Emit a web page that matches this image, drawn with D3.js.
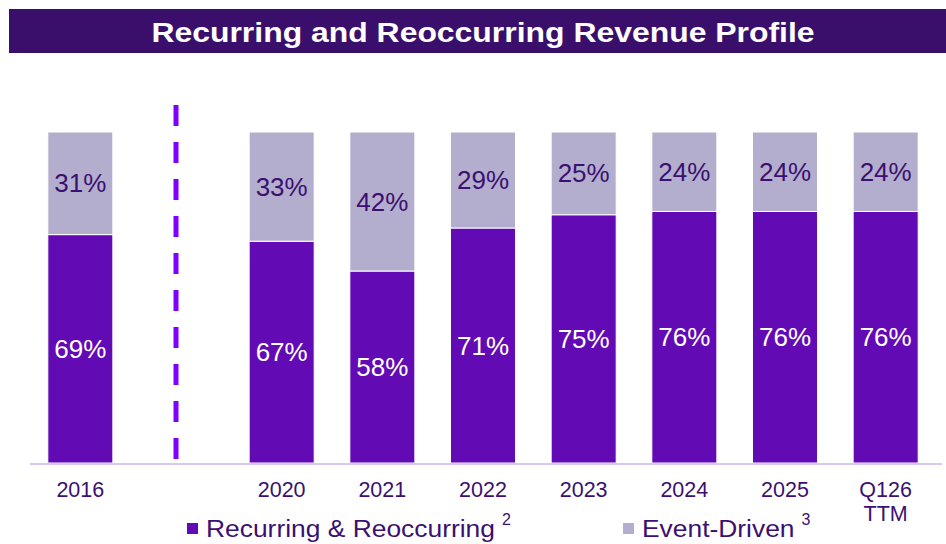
<!DOCTYPE html>
<html>
<head>
<meta charset="utf-8">
<script src="https://cdn.jsdelivr.net/npm/d3@7"></script>
<style>
  body { margin: 0; background: #fff; }
  svg { display: block; font-family: "Liberation Sans", Arial, sans-serif; }
</style>
</head>
<body>
<svg id="chart" width="946" height="544"></svg>
<script>
// Chart data
const categories = ["2016", "", "2020", "2021", "2022", "2023", "2024", "2025", "Q126 TTM"];
const recurring = [69, null, 67, 58, 71, 75, 76, 76, 76];
const eventDriven = [31, null, 33, 42, 29, 25, 24, 24, 24];
const legendLabels = ["Recurring & Reoccurring", "Event-Driven"];
const legendNotes = ["2", "3"];

const purple = "#620bb5",
      lavender = "#b4aece",
      darkText = "#3b1070";

const svg = d3.select("#chart"),
      width = 946,
      margin = {top: 132, bottom: 80, left: 30, right: 10};

// Title bar
svg.append("rect")
  .attr("x", 9).attr("y", 9)
  .attr("width", width - 9).attr("height", 44)
  .attr("fill", "#3a0f6c");

// the original title is a bit wide for its height, so stretch it
svg.append("text")
  .attr("transform", "translate(483,42) scale(1.14,1)")
  .attr("text-anchor", "middle")
  .attr("fill", "#fff")
  .style("font-size", "28px")
  .style("font-weight", "bold")
  .text("Recurring and Reoccurring Revenue Profile");

// Scales
const x = d3.scaleBand()
  .domain(categories)
  .range([margin.left, 936])
  .paddingInner(0.354)
  .paddingOuter(0.177);

const y = d3.scaleLinear()
  .domain([0, 100])
  .range([463, margin.top]);

const rows = categories.map((c, i) => ({cat: c, rec: recurring[i], evt: eventDriven[i]}))
  .filter(d => d.rec !== null);

const bars = svg.append("g");

// Recurring segment (bottom)
bars.selectAll(".rec")
  .data(rows)
  .join("rect")
  .attr("x", d => x(d.cat))
  .attr("y", d => y(d.rec))
  .attr("width", x.bandwidth())
  .attr("height", d => y(0) - y(d.rec))
  .attr("fill", purple)
  .attr("stroke", "#fff")
  .attr("stroke-width", 1);

// Event-driven segment (top)
bars.selectAll(".evt")
  .data(rows)
  .join("rect")
  .attr("x", d => x(d.cat))
  .attr("y", d => y(d.rec + d.evt))
  .attr("width", x.bandwidth())
  .attr("height", d => y(d.rec) - y(d.rec + d.evt))
  .attr("fill", lavender)
  .attr("stroke", "#fff")
  .attr("stroke-width", 1);

// Segment labels
bars.selectAll(".recLabel")
  .data(rows)
  .join("text")
  .attr("x", d => x(d.cat) + x.bandwidth() / 2)
  .attr("y", d => (y(0) + y(d.rec)) / 2)
  .attr("dy", "0.35em")
  .attr("text-anchor", "middle")
  .attr("fill", "#fff")
  .style("font-size", "26px")
  .text(d => d.rec + "%");

bars.selectAll(".evtLabel")
  .data(rows)
  .join("text")
  .attr("x", d => x(d.cat) + x.bandwidth() / 2)
  .attr("y", d => (y(d.rec) + y(d.rec + d.evt)) / 2)
  .attr("dy", "0.35em")
  .attr("text-anchor", "middle")
  .attr("fill", darkText)
  .style("font-size", "26px")
  .text(d => d.evt + "%");

// Dashed divider in the empty slot
svg.append("line")
  .attr("x1", x("") + x.bandwidth() / 2 - 5)
  .attr("x2", x("") + x.bandwidth() / 2 - 5)
  .attr("y1", 105)
  .attr("y2", y(0))
  .attr("stroke", "#8000ff")
  .attr("stroke-width", 5)
  .attr("stroke-dasharray", "21 16");

// Baseline
svg.append("line")
  .attr("x1", margin.left).attr("x2", 942)
  .attr("y1", y(0) + 1).attr("y2", y(0) + 1)
  .attr("stroke", "#d9c8f2")
  .attr("stroke-width", 2);

// X axis labels
const xAxis = svg.append("g")
  .attr("transform", "translate(0," + (y(0) + 1) + ")")
  .call(d3.axisBottom(x).tickSize(0).tickPadding(0).tickFormat(""));
xAxis.select(".domain").remove();

xAxis.selectAll(".tick").each(function(d) {
  const lines = d.split(" ");
  const t = d3.select(this).append("text")
    .attr("text-anchor", "middle")
    .attr("fill", darkText)
    .style("font-size", "21.5px")
    .style("font-family", "'Liberation Sans', Arial, sans-serif");
  lines.forEach((l, i) => {
    t.append("tspan").attr("x", 0).attr("y", 33 + i * 24).text(l);
  });
});

// Legend
const legendX = [187, 623];
const legend = svg.append("g");
legendLabels.forEach((label, i) => {
  const g = legend.append("g").attr("transform", "translate(" + legendX[i] + ",523)");
  g.append("rect")
    .attr("width", 11).attr("height", 11)
    .attr("fill", i === 0 ? purple : lavender);
  const t = g.append("text")
    .attr("transform", "translate(19,14) scale(1.1,1)")
    .attr("fill", darkText)
    .style("font-size", "24px")
    .text(label);
  const w = t.node().getComputedTextLength() * 1.1;
  g.append("text")
    .attr("x", 19 + w + 7).attr("y", 2)
    .attr("fill", darkText)
    .style("font-size", "16px")
    .text(legendNotes[i]);
});
</script>
</body>
</html>
